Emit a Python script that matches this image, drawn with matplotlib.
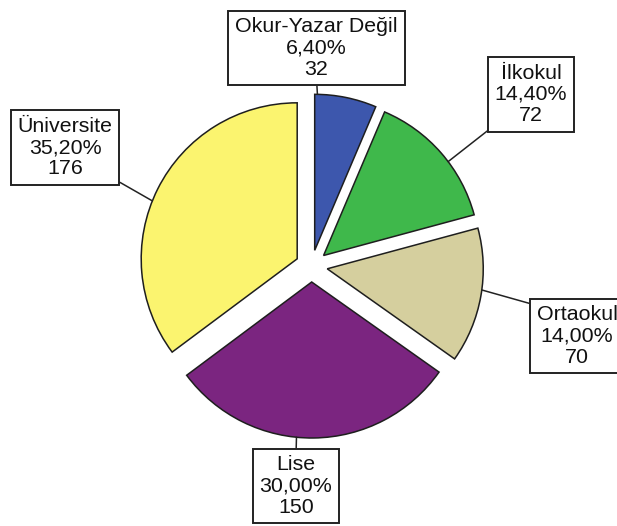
import math

import matplotlib
matplotlib.use("Agg")
import matplotlib.pyplot as plt

plt.rcParams["font.family"] = ["Liberation Sans", "DejaVu Sans"]

# education level counts
categories = ["Okur-Yazar Değil", "İlkokul", "Ortaokul", "Lise", "Üniversite"]
counts = [32, 72, 70, 150, 176]
colors = ["#3d57ad", "#3fb84b", "#d5cf9e", "#7b2580", "#fbf46f"]

# label layout: box centre (px, y up), anchor angle on the arc (deg clockwise from top),
# and where the leader line leaves the box
label_xy = [(316.5, 478), (531, 431.5), (577, 190), (296, 40), (65, 378.5)]
anchor_deg = [1.0, 53.0, 97.8, 185.6, 291.8]
leader_rel = [(0.5, 0.0), (0.0, 0.0), (0.0, 1.0), (0.5, 1.0), (1.0, 0.0)]

W, H = 617, 526
CENTER = (311.5, 260.0)
RADIUS = 156.0
EXPLODE = 16.0

fig = plt.figure(figsize=(W / 100, H / 100), dpi=100)
ax = fig.add_axes([0, 0, 1, 1])

total = sum(counts)
ax.pie(
    counts,
    colors=colors,
    startangle=90,
    counterclock=False,
    center=CENTER,
    radius=RADIUS,
    explode=[EXPLODE] * len(counts),
    wedgeprops=dict(edgecolor="#1e1e1e", linewidth=1.1),
)
ax.set_xlim(0, W)
ax.set_ylim(0, H)
ax.set_aspect("equal")
ax.axis("off")

start = 0.0
for name, n, xy, ang, rel in zip(categories, counts, label_xy, anchor_deg, leader_rel):
    span = 360.0 * n / total
    mid = math.radians(start + span / 2)
    start += span
    # apex of the exploded wedge
    cx = CENTER[0] + EXPLODE * math.sin(mid)
    cy = CENTER[1] + EXPLODE * math.cos(mid)
    a = math.radians(ang)
    anchor = (cx + RADIUS * math.sin(a), cy + RADIUS * math.cos(a))

    pct = f"{100 * n / total:.2f}%".replace(".", ",")
    ax.annotate(
        f"{name}\n{pct}\n{n}",
        xy=anchor,
        xytext=xy,
        ha="center",
        va="center",
        multialignment="center",
        fontsize=15.4,
        linespacing=1.14,
        color="#111111",
        bbox=dict(boxstyle="square,pad=0.32", facecolor="white",
                  edgecolor="#222222", linewidth=1.4),
        arrowprops=dict(arrowstyle="-", color="#222222", linewidth=1.1,
                        shrinkA=0, shrinkB=0, relpos=rel),
        annotation_clip=False,
    )

fig.savefig("out.png", dpi=100)
